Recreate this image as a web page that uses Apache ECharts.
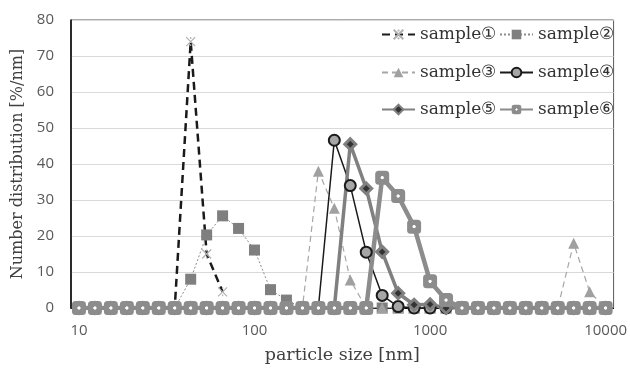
<!DOCTYPE html>
<html>
<head>
<meta charset="utf-8">
<script src="https://cdn.jsdelivr.net/npm/echarts@6/dist/echarts.min.js"></script>
<style>
  html, body { margin: 0; padding: 0; background: #fff; }
  #chart { width: 630px; height: 370px; }
</style>
</head>
<body>
<div id="chart"></div>
<script>
// particle size bins [nm], 11 per decade
const sizes = ['10', '12.3', '15.2', '18.7', '23.1', '28.5', '35.1', '43.3', '53.4', '65.8', '81.1',
  '100', '123', '152', '187', '231', '285', '351', '433', '534', '658', '811',
  '1000', '1233', '1520', '1874', '2310', '2848', '3511', '4329', '5337', '6579', '8111', '10000'];

// sample① has no values past 65.8 nm
const sample1 = [0, 0, 0, 0, 0, 0, 0, 74, 15, 4.5, null, null, null, null, null, null, null, null, null, null, null, null, null, null, null, null, null, null, null, null, null, null, null, null];
const sample2 = [0, 0, 0, 0, 0, 0, 0, 8, 20.3, 25.6, 22.1, 16.1, 5.1, 2.2, 0, 0, 0, 0, 0, 0, 0, 0, 0, 0, 0, 0, 0, 0, 0, 0, 0, 0, 0, 0];
const sample3 = [0, 0, 0, 0, 0, 0, 0, 0, 0, 0, 0, 0, 0, 0, 0, 38, 27.7, 7.8, 0, 0, 0, 0, 0, 0, 0, 0, 0, 0, 0, 0, 0, 18, 4.5, 0];
const sample4 = [0, 0, 0, 0, 0, 0, 0, 0, 0, 0, 0, 0, 0, 0, 0, 0, 46.6, 34, 15.5, 3.5, 0.4, 0, 0, 0, 0, 0, 0, 0, 0, 0, 0, 0, 0, 0];
const sample5 = [0, 0, 0, 0, 0, 0, 0, 0, 0, 0, 0, 0, 0, 0, 0, 0, 0, 45.5, 33.2, 15.6, 4.1, 0.9, 1, 0, 0, 0, 0, 0, 0, 0, 0, 0, 0, 0];
const sample6 = [0, 0, 0, 0, 0, 0, 0, 0, 0, 0, 0, 0, 0, 0, 0, 0, 0, 0, 0, 36.2, 31.1, 22.6, 7.4, 2.2, 0, 0, 0, 0, 0, 0, 0, 0, 0, 0];

const names = ['sample①', 'sample②', 'sample③', 'sample④', 'sample⑤', 'sample⑥'];

const serif = 'DejaVu Serif';
const crossPath = 'path://M0,0L10,10M10,0L0,10M5,0L5,2M5,8L5,10';

// gray square with a small white centre
const dotSquare = {
  type: 'radial', x: 0.5, y: 0.5, r: 0.5,
  colorStops: [
    { offset: 0, color: '#fff' },
    { offset: 0.18, color: '#fff' },
    { offset: 0.28, color: '#8c8c8c' },
    { offset: 1, color: '#8c8c8c' },
  ],
};

const chart = echarts.init(document.getElementById('chart'));

function legendAt(name, left, top) {
  return {
    data: [name],
    left: left,
    top: top,
    padding: 0,
    itemWidth: 33,
    itemHeight: 12,
    itemGap: 0,
    textStyle: { fontFamily: serif, fontSize: 17, color: '#333' },
  };
}

const option = {
  animation: false,
  grid: { left: 71, right: 13, top: 20, bottom: 62, show: true, borderColor: '#595959', borderWidth: 1 },
  legend: [
    legendAt(names[0], 381, 26),
    legendAt(names[1], 499, 26),
    legendAt(names[2], 381, 64),
    legendAt(names[3], 499, 64),
    legendAt(names[4], 381, 101),
    legendAt(names[5], 499, 101),
  ],
  xAxis: {
    type: 'category',
    data: sizes,
    boundaryGap: true,
    name: 'particle size [nm]',
    nameLocation: 'middle',
    nameGap: 38,
    nameTextStyle: { fontFamily: serif, fontSize: 17.5, color: '#404040' },
    axisLine: { lineStyle: { color: '#000', width: 1 } },
    axisTick: { show: false },
    axisLabel: { interval: 10, margin: 15, fontFamily: 'Open Sans', fontSize: 15, color: '#595959' },
  },
  yAxis: {
    type: 'value',
    min: 0,
    max: 80,
    interval: 10,
    name: 'Number distribution [%/nm]',
    nameLocation: 'middle',
    nameGap: 38,
    nameTextStyle: { fontFamily: serif, fontSize: 16, color: '#404040' },
    axisLine: { show: true, lineStyle: { color: '#000', width: 1.5 } },
    axisTick: { show: false },
    axisLabel: { margin: 17, fontFamily: 'Open Sans', fontSize: 15, color: '#595959' },
    splitLine: { lineStyle: { color: '#d9d9d9', width: 1 } },
  },
  series: [
    {
      name: names[0], type: 'line', data: sample1, showAllSymbol: true,
      symbol: crossPath, symbolSize: 9,
      lineStyle: { color: '#1a1a1a', width: 2.5, type: [8, 5] },
      itemStyle: { color: '#b0b0b0', borderColor: '#b0b0b0', borderWidth: 1.2 },
    },
    {
      name: names[1], type: 'line', data: sample2, showAllSymbol: true,
      symbol: 'rect', symbolSize: 11,
      lineStyle: { color: '#8c8c8c', width: 1, type: [2, 2] },
      itemStyle: { color: '#7f7f7f' },
    },
    {
      name: names[2], type: 'line', data: sample3, showAllSymbol: true,
      symbol: 'triangle', symbolSize: 11,
      lineStyle: { color: '#a6a6a6', width: 1.2, type: [6, 4] },
      itemStyle: { color: '#a0a0a0' },
    },
    {
      name: names[3], type: 'line', data: sample4, showAllSymbol: true,
      symbol: 'circle', symbolSize: 11,
      lineStyle: { color: '#1a1a1a', width: 1.5 },
      itemStyle: { color: '#a6a6a6', borderColor: '#1a1a1a', borderWidth: 2 },
    },
    {
      name: names[4], type: 'line', data: sample5, showAllSymbol: true,
      symbol: 'diamond', symbolSize: 11,
      lineStyle: { color: '#808080', width: 3.5 },
      itemStyle: { color: '#333', borderColor: '#808080', borderWidth: 3 },
    },
    {
      name: names[5], type: 'line', data: sample6, showAllSymbol: true,
      symbol: 'roundRect', symbolSize: 14,
      lineStyle: { color: '#8c8c8c', width: 4.5 },
      itemStyle: { color: dotSquare, borderWidth: 0 },
    },
  ],
};

chart.setOption(option);
</script>
</body>
</html>
